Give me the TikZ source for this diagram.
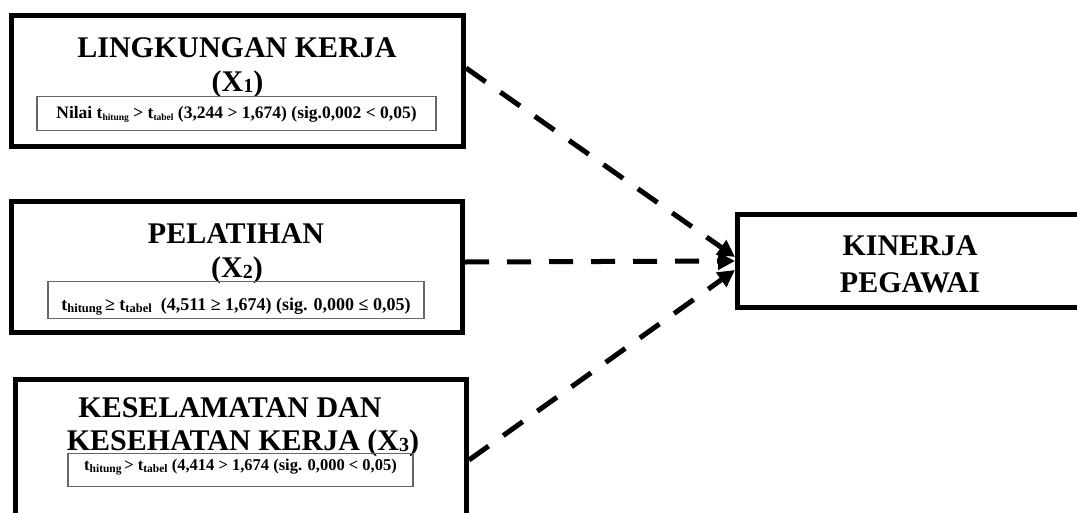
\documentclass[tikz,border=0pt]{standalone}
\usepackage{fontspec}
\setmainfont{Liberation Serif}
\usetikzlibrary{arrows.meta}
\newcommand{\lowsub}[2]{{\fontsize{#1}{#1}\selectfont\raisebox{-1.5pt}{#2}}}
\tikzset{
  bigbox/.style={draw=black, line width=5pt, inner sep=0pt, fill=none},
  subbox/.style={draw=black!60, line width=1.2pt, inner xsep=0pt, inner ysep=0pt, anchor=north},
  title/.style={anchor=base, inner sep=0pt, font=\fontsize{30}{34}\selectfont\bfseries},
  link/.style={line width=5pt, dash pattern=on 24pt off 18pt, -{Triangle[length=17pt,width=17pt]}}
}
\begin{document}
\begin{tikzpicture}[x=1pt,y=-1pt]
\useasboundingbox (0,0) rectangle (1077,512);
\clip (0,0) rectangle (1077,512);
% big boxes
\node[bigbox, minimum width=452pt, minimum height=131pt] (b1) at (237.5,81) {};
\node[bigbox, minimum width=451pt, minimum height=131pt] (b2) at (237,267) {};
\node[bigbox, minimum width=451pt, minimum height=150pt] (b3) at (241,454.5) {};
\node[bigbox, minimum width=362.5pt, minimum height=93pt] (b4) at (918.75,261) {};
% titles
\node[title] (t1a) at (237,57) {LINGKUNGAN KERJA};
\node[title] (t1b) at (237.5,91) {(X\lowsub{20}{1})};
\node[title] (t2a) at (236,243) {PELATIHAN};
\node[title] (t2b) at (237,277) {(X\lowsub{20}{2})};
\node[title] (t3a) at (230,417) {KESELAMATAN DAN};
\node[title] (t3b) at (243,450) {KESEHATAN KERJA (X\lowsub{20}{3})};
\node[title] (t4a) at (910,255) {KINERJA};
\node[title] (t4b) at (910,292) {PEGAWAI};
% result boxes
\node[subbox, minimum width=399pt, text height=22pt, text depth=12pt,
      font=\fontsize{17.5}{18}\selectfont\bfseries] (s1) at (236.5,96)
  {Nilai t\lowsub{9.5}{hitung} > t\lowsub{9.5}{tabel} (3,244 > 1,674) (sig.0,002 < 0,05)\hspace{10pt}};
\node[subbox, minimum width=376pt, text height=29pt, text depth=8pt,
      font=\fontsize{18}{18}\selectfont\bfseries] (s2) at (236,281)
  {t\lowsub{12.5}{hitung}\,≥ t\lowsub{12.5}{tabel}\ \ (4,511 ≥ 1,674) (sig. 0,000 ≤ 0,05)};
\node[subbox, minimum width=345pt, text height=17pt, text depth=16pt,
      font=\fontsize{16.5}{18}\selectfont\bfseries] (s3) at (240.5,453)
  {t\lowsub{11.5}{hitung}\,> t\lowsub{11.5}{tabel} (4,414 > 1,674 (sig. 0,000 < 0,05)\hspace{8pt}};
% connectors
\draw[link] ([yshift=13pt]b1.east) -- ([yshift=4pt]b4.west);
\draw[link] ([yshift=5pt]b2.east) -- (b4.west);
\draw[link] ([yshift=-5.5pt]b3.east) -- ([yshift=-9pt]b4.west);
\end{tikzpicture}
\end{document}
